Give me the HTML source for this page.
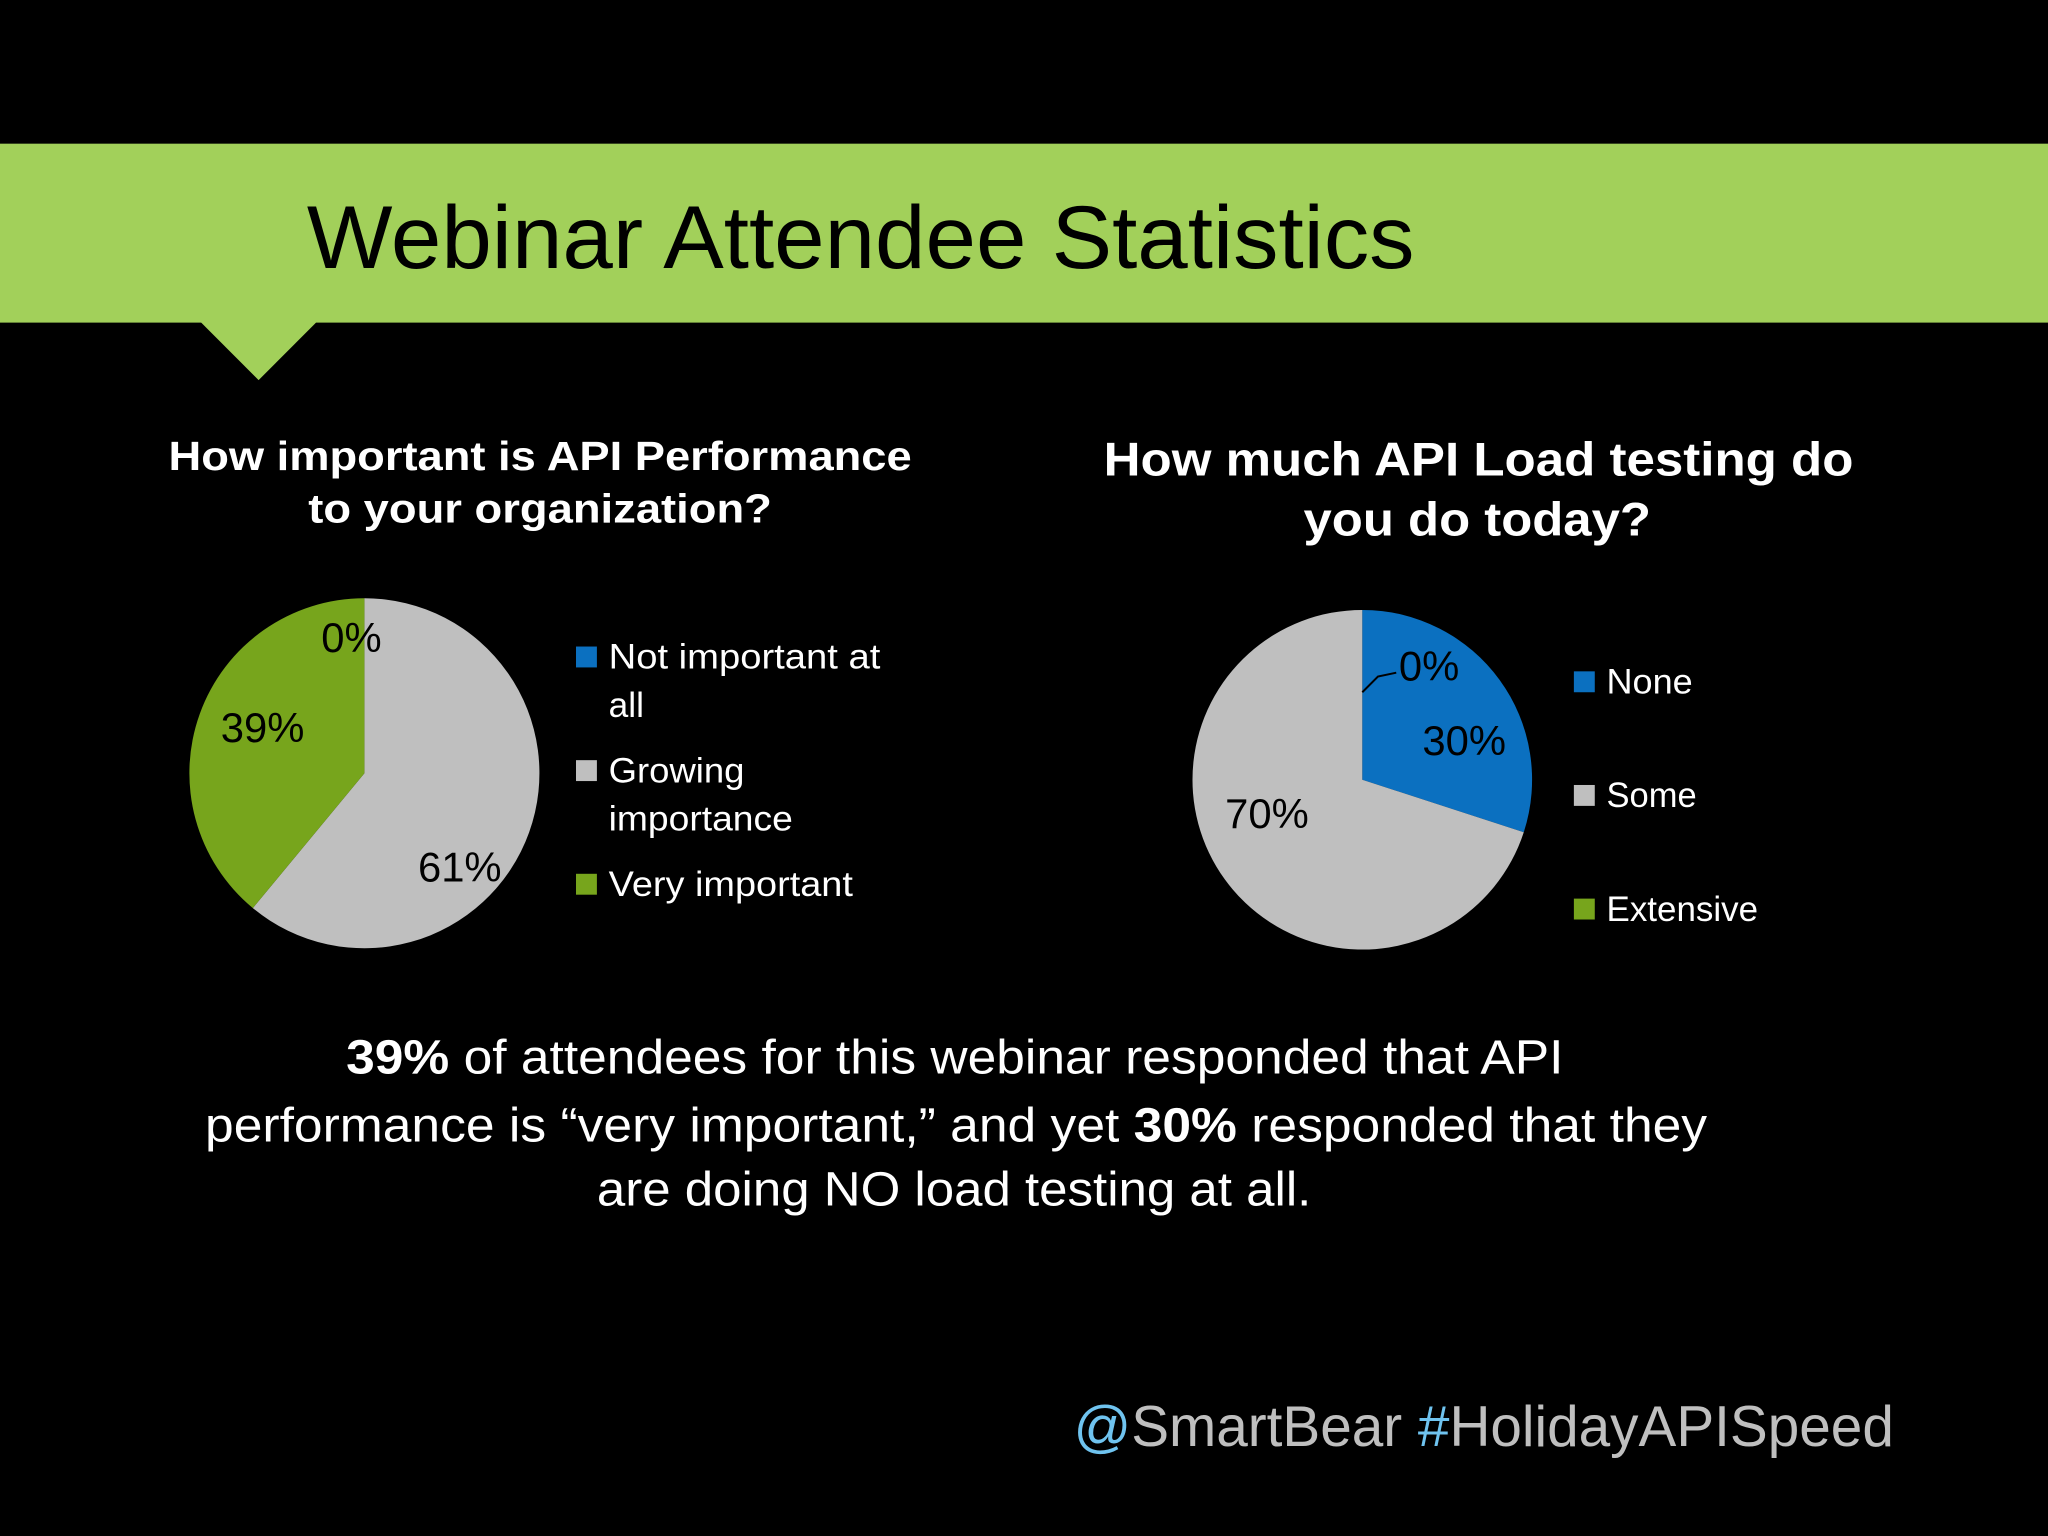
<!DOCTYPE html>
<html><head><meta charset="utf-8"><style>
html,body{margin:0;padding:0;background:#000;width:2048px;height:1536px;overflow:hidden}
svg{display:block}
text{font-family:"Liberation Sans",sans-serif}
</style></head><body>
<svg id="s" width="2048" height="1536" viewBox="0 0 1568 1176">
<rect width="1568" height="1176" fill="#000"/>
<rect x="0" y="110" width="1568" height="137" fill="#a2d05a"/>
<polygon points="153,246 243,246 198,291" fill="#a2d05a"/>
<text x="235" y="205" font-size="68" textLength="848" lengthAdjust="spacingAndGlyphs" fill="#000">Webinar Attendee Statistics</text>

<g font-size="31" font-weight="bold" fill="#fff" lengthAdjust="spacingAndGlyphs">
<text x="129" y="360" textLength="569" lengthAdjust="spacingAndGlyphs">How important is API Performance</text>
<text x="236" y="400" textLength="355" lengthAdjust="spacingAndGlyphs">to your organization?</text></g>
<g font-size="36" font-weight="bold" fill="#fff">
<text x="845" y="364" textLength="574" lengthAdjust="spacingAndGlyphs">How much API Load testing do</text>
<text x="998" y="410" textLength="266" lengthAdjust="spacingAndGlyphs">you do today?</text></g>

<g id="pieL"></g>
<g id="pieR"></g>

<g font-size="32" fill="#000">
<text x="246" y="499">0%</text><text x="169" y="568">39%</text><text x="320" y="675">61%</text></g>
<g font-size="32">
<text x="1071" y="521" fill="#000">0%</text>
<path d="M1043,530 L1055,518 L1069,515" stroke="#000" fill="none" stroke-width="1.5"/>
<text x="1089" y="578" fill="#000">30%</text><text x="938" y="634" fill="#000">70%</text></g>

<g font-size="27" fill="#fff">
<rect x="441" y="495" width="16" height="16" fill="#0b70c0"/>
<text x="466" y="512" textLength="208" lengthAdjust="spacingAndGlyphs">Not important at</text><text x="466" y="549">all</text>
<rect x="441" y="582" width="16" height="16" fill="#bfbfbf"/>
<text x="466" y="599" textLength="104" lengthAdjust="spacingAndGlyphs">Growing</text><text x="466" y="636" textLength="141" lengthAdjust="spacingAndGlyphs">importance</text>
<rect x="441" y="669" width="16" height="16" fill="#77a51c"/>
<text x="466" y="686" textLength="187" lengthAdjust="spacingAndGlyphs">Very important</text></g>
<g font-size="27" fill="#fff">
<rect x="1205" y="514" width="16" height="16" fill="#0b70c0"/>
<text x="1230" y="531" textLength="66" lengthAdjust="spacingAndGlyphs">None</text>
<rect x="1205" y="601" width="16" height="16" fill="#bfbfbf"/>
<text x="1230" y="618" textLength="69" lengthAdjust="spacingAndGlyphs">Some</text>
<rect x="1205" y="688" width="16" height="16" fill="#77a51c"/>
<text x="1230" y="705" textLength="116" lengthAdjust="spacingAndGlyphs">Extensive</text></g>

<g font-size="37" fill="#fff">
<text x="265" y="822" textLength="932" lengthAdjust="spacingAndGlyphs"><tspan font-weight="bold">39%</tspan> of attendees for this webinar responded that API</text>
<text x="157" y="874" textLength="1150" lengthAdjust="spacingAndGlyphs">performance is “very important,” and yet <tspan font-weight="bold">30%</tspan> responded that they</text>
<text x="457" y="923" textLength="547" lengthAdjust="spacingAndGlyphs">are doing NO load testing at all.</text></g>

<text x="822" y="1107" font-size="44" textLength="628" lengthAdjust="spacingAndGlyphs"><tspan fill="#6fc3ef">@</tspan><tspan fill="#bfbfbf">SmartBear </tspan><tspan fill="#6fc3ef">#</tspan><tspan fill="#bfbfbf">HolidayAPISpeed</tspan></text>
</svg>
<script>
const leftCategories=["Not important at all","Growing importance","Very important"];
const leftValues=[0,61,39];
const rightCategories=["None","Some","Extensive"];
const rightValues=[30,70,0];
const pieColors=["#0b70c0","#bfbfbf","#77a51c"];
const NS="http://www.w3.org/2000/svg";
function drawPie(gid,cx,cy,r,vals,cats){
  const g=document.getElementById(gid);
  const tot=vals.reduce((a,b)=>a+b,0);
  let a0=0;
  vals.forEach((v,i)=>{
    if(v<=0)return;
    const a1=a0+v/tot*2*Math.PI;
    const p=document.createElementNS(NS,"path");
    const x0=cx+r*Math.sin(a0),y0=cy-r*Math.cos(a0),x1=cx+r*Math.sin(a1),y1=cy-r*Math.cos(a1);
    const large=(a1-a0)>Math.PI?1:0;
    p.setAttribute("d",v>=tot?`M${cx-r},${cy}A${r},${r} 0 1 1 ${cx+r},${cy}A${r},${r} 0 1 1 ${cx-r},${cy}Z`:`M${cx},${cy}L${x0},${y0}A${r},${r} 0 ${large} 1 ${x1},${y1}Z`);
    p.setAttribute("fill",pieColors[i]);
    
    
    g.appendChild(p);
    a0=a1;
  });
}
drawPie("pieL",279,592,134,leftValues,leftCategories);
drawPie("pieR",1043,597,130,rightValues,rightCategories);
</script>
</body></html>
